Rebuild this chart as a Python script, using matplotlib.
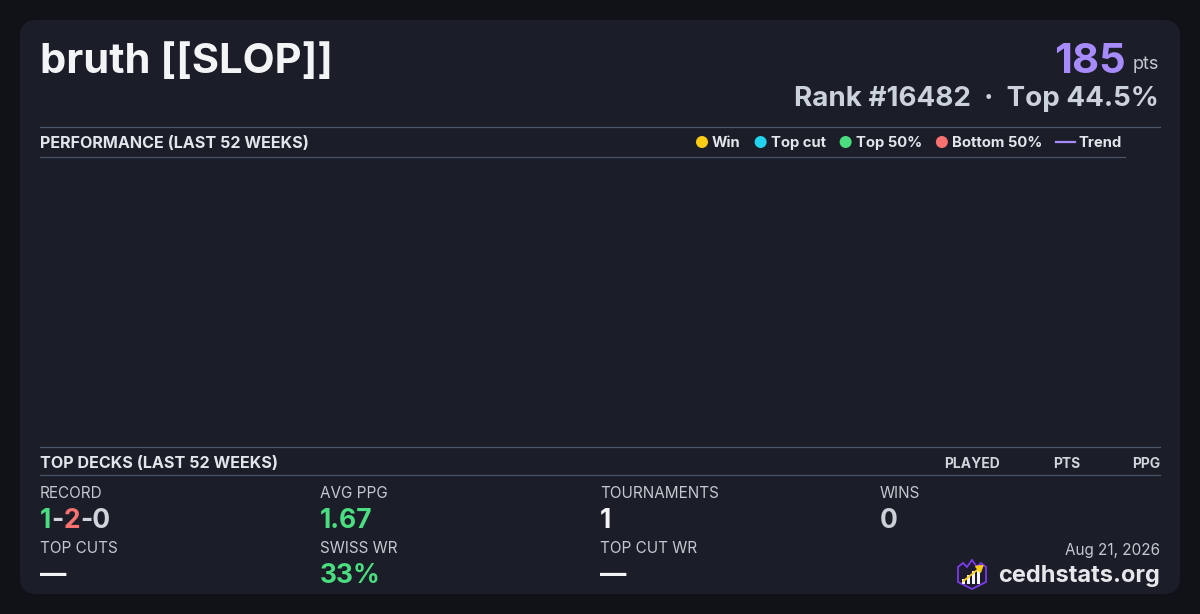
import matplotlib
matplotlib.use("Agg")
import matplotlib.pyplot as plt
from matplotlib.patches import FancyBboxPatch, Circle, Polygon, Rectangle, FancyArrowPatch
from matplotlib.lines import Line2D

plt.rcParams['font.family'] = ['Inter', 'DejaVu Sans']

# ---- data ----
player_name = "bruth [[SLOP]]"
points = "185"
points_unit = "pts"
rank_text = "Rank #16482  ·  Top 44.5%"
perf_title = "PERFORMANCE (LAST 52 WEEKS)"
legend_labels = ["Win", "Top cut", "Top 50%", "Bottom 50%", "Trend"]
legend_colors = ["#facc15", "#22d3ee", "#4ade80", "#f87171", "#a78bfa"]
decks_title = "TOP DECKS (LAST 52 WEEKS)"
deck_columns = ["PLAYED", "PTS", "PPG"]
record_parts = ["1", "-", "2", "-0"]
record_colors = ["#4ade80", "#d1d5db", "#f87171", "#d1d5db"]
stat_labels = ["RECORD", "AVG PPG", "TOURNAMENTS", "WINS", "TOP CUTS", "SWISS WR", "TOP CUT WR"]
stat_values = [None, "1.67", "1", "0", "—", "33%", "—"]
stat_colors = [None, "#4ade80", "#f3f4f6", "#cbd0d8", "#f3f4f6", "#4ade80", "#f3f4f6"]
date_text = "Aug 21, 2026"
site_text = "cedhstats.org"

BG = "#111217"
CARD = "#1b1d28"
LINE = "#4a5568"
W, H = 1200, 614

fig = plt.figure(figsize=(12, 6.14), dpi=100, facecolor=BG)
ax = fig.add_axes([0, 0, 1, 1])
ax.set_xlim(0, W)
ax.set_ylim(H, 0)
ax.axis("off")
ax.set_facecolor(BG)

ax.add_patch(FancyBboxPatch((20, 20), 1160, 574, boxstyle="round,pad=0,rounding_size=16",
                            facecolor=CARD, edgecolor="none"))

# header
ax.text(40, 73, player_name, fontsize=30, fontweight="bold", color="#f3f4f6", va="baseline", ha="left")
ax.text(1159, 69, points_unit, fontsize=13, color="#c4c8d0", va="baseline", ha="right")
ax.text(1126, 73, points, fontsize=30, fontweight="bold", color="#a78bfa", va="baseline", ha="right")
ax.text(1159, 106, rank_text, fontsize=20, fontweight="bold", color="#cbd2dc", va="baseline", ha="right")

def hline(y, x0, x1):
    ax.add_line(Line2D([x0, x1], [y, y], color=LINE, lw=0.9))

hline(126.5, 40, 1160)
hline(156.5, 40, 1125)
ax.text(40, 147.5, perf_title, fontsize=11.6, fontweight="bold", color="#e2e5ea", va="baseline", ha="left")

# legend
fig.canvas.draw()
renderer = fig.canvas.get_renderer()
x = 696
for lab, col in zip(legend_labels, legend_colors):
    if lab == "Trend":
        ax.add_line(Line2D([x, x + 19], [142, 142], color=col, lw=1.6))
        tx = x + 22
    else:
        ax.add_patch(Circle((x + 6, 142), 6, facecolor=col, edgecolor="none"))
        tx = x + 16
    t = ax.text(tx, 147, lab, fontsize=10.7, fontweight="bold", color="#e2e5ea", va="baseline", ha="left")
    bb = t.get_window_extent(renderer)
    x = bb.x1 + 14

# top decks
hline(446.5, 40, 1160)
hline(474.5, 40, 1160)
ax.text(40, 468, decks_title, fontsize=11.6, fontweight="bold", color="#e2e5ea", va="baseline", ha="left")
for col_name, xr in zip(deck_columns, [1000, 1080, 1160]):
    ax.text(xr, 468, col_name, fontsize=10, fontweight="bold", color="#d1d5db", va="baseline", ha="right")

# stats grid
col_x = [40, 320, 600, 880]
label_y = [498, 553]
value_y = [528, 583]
VFS = 19
for i, (lab, val, vc) in enumerate(zip(stat_labels, stat_values, stat_colors)):
    r, c = divmod(i, 4)
    ax.text(col_x[c], label_y[r], lab, fontsize=11, color="#c4c8d0", va="baseline", ha="left")
    if val is not None:
        ax.text(col_x[c], value_y[r], val, fontsize=VFS, fontweight="bold", color=vc,
                va="baseline", ha="left")

prev = None
for part, pc in zip(record_parts, record_colors):
    if prev is None:
        prev = ax.text(col_x[0], value_y[0], part, fontsize=VFS, fontweight="bold", color=pc,
                       va="baseline", ha="left")
    else:
        prev = ax.annotate(part, xy=(1, 0), xycoords=prev, fontsize=VFS, fontweight="bold",
                           color=pc, va="bottom", ha="left")

# footer
ax.text(1160, 555, date_text, fontsize=11, color="#c4c8d0", va="baseline", ha="right")
ax.text(1160, 582, site_text, fontsize=17, fontweight="bold", color="#e5e7eb", va="baseline", ha="right")

# logo
shield = [(958, 567), (963, 563), (967, 567), (972, 560), (977, 567), (981, 563), (986, 567),
          (986, 582), (972, 589), (958, 582)]
ax.add_patch(Polygon(shield, closed=True, facecolor="#1e1b2e", edgecolor="#7c3aed", lw=1.3))
for bx, bh in zip([962, 967, 972, 977], [5, 9, 13, 17]):
    ax.add_patch(Rectangle((bx, 584 - bh), 3, bh, facecolor="#f3f4f6", edgecolor="none"))
ax.add_patch(FancyArrowPatch((961, 583), (986, 563), arrowstyle="-|>,head_length=4,head_width=2.5",
                             color="#facc15", lw=1.3, mutation_scale=1))

fig.savefig("out.png", dpi=100, facecolor=BG)
